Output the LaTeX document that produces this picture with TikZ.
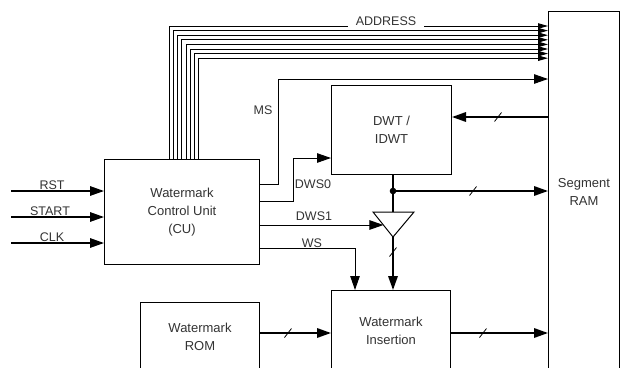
\documentclass[tikz,border=0pt]{standalone}
\usepackage{fontspec}
\setmainfont{Liberation Sans}
\usetikzlibrary{arrows.meta}
\begin{document}
\begin{tikzpicture}[x=1pt,y=-1pt,
  blk/.style={draw, line width=1pt, font=\fontsize{13}{18}\selectfont, text=black!80, align=center, inner sep=0pt, anchor=north west},
  lbl/.style={font=\fontsize{12.5}{15}\selectfont, text=black!80, inner sep=1pt},
  big/.style={-{Triangle[length=14pt,width=9.5pt]}},
  thinl/.style={line width=1pt},
  heavy/.style={line width=1.7pt},
  inl/.style={line width=1.4pt},
  addr/.style={line width=0.9pt, -{Triangle[length=10pt,width=5.4pt]}},
  slashmark/.pic={\draw[line width=0.8pt] (-3.5,4.5) -- (3.5,-4.5);}
]
\clip (0,0) rectangle (624,367);
\fill[white] (0,0) rectangle (624,367);

% blocks
\node[blk, minimum width=155pt, minimum height=105pt] (cu) at (104,159) {Watermark\\Control Unit\\(CU)};
\node[blk, minimum width=120pt, minimum height=89pt] (dwt) at (331,85) {DWT /\\IDWT};
\node[blk, minimum width=119pt, minimum height=68pt] (rom) at (140,302) {Watermark\\ROM};
\node[blk, minimum width=119pt, minimum height=80pt] (ins) at (331,290) {Watermark\\Insertion};
\node[blk, minimum width=71pt, minimum height=360pt] (ram) at (548,11) {Segment\\RAM};

% inputs
\coordinate (rst) at (11,191);
\coordinate (start) at (11,217);
\coordinate (clk) at (11,243);
\draw[inl, big] (rst) -- (rst -| cu.west);
\draw[inl, big] (start) -- (start -| cu.west);
\draw[inl, big] (clk) -- (clk -| cu.west);
\node[lbl, anchor=base] at (52,189.5) {RST};
\node[lbl, anchor=base] at (50,215.5) {START};
\node[lbl, anchor=base] at (52,241.5) {CLK};

% address bus
\foreach \i in {0,...,7} {
  \pgfmathsetmacro{\xs}{65+4.25*\i}
  \pgfmathsetmacro{\ys}{-15-4.6*\i}
  \draw[addr] ([xshift=\xs pt]cu.north west) |- ([yshift=\ys pt]ram.north west);
}
\node[lbl, fill=white, inner xsep=8pt, inner ysep=3pt, anchor=base] at (386,25) {ADDRESS};

% MS
\draw[thinl, big] (cu.east |- 0,184) -- (278,184) |- (ram.west |- 0,79);
\node[lbl] at (263,110) {MS};

% RAM -> DWT
\draw[heavy, big] (ram.west |- 0,117) -- (dwt.east |- 0,117);
\path (498,117) pic{slashmark};

% DWS0
\draw[thinl, big] (cu.east |- 0,201) -- (293,201) |- (dwt.west |- 0,158);
\node[lbl] at (313,184) {DWS0};

% junction and buffer
\coordinate (jn) at (393,191);
\coordinate (bt1) at (373,212);
\coordinate (bt2) at (414,212);
\coordinate (bapex) at (393,237);
\coordinate (bin) at (383.4,225);
\draw[thinl] (bt1) -- (bt2) -- (bapex) -- cycle;
\draw[heavy] (dwt.south -| jn) -- (jn) -- (jn |- bt1);
\fill (jn) circle (3.3pt);
\draw[heavy, big] (jn) -- (jn -| ram.west);
\path (473,191) pic{slashmark};
\draw[heavy, big] (bapex) -- (bapex |- ins.north);
\path (393,252) pic{slashmark};

% DWS1
\draw[thinl, big] (cu.east |- bin) -- (bin);
\node[lbl] at (314,216) {DWS1};

% WS
\draw[thinl, big] (cu.east |- 0,248) -- (355,248) -- (ins.north -| 355,0);
\node[lbl] at (312,243) {WS};

% ROM -> Insertion -> RAM
\draw[heavy, big] (rom.east |- 0,333) -- (ins.west |- 0,333);
\path (288,333) pic{slashmark};
\draw[heavy, big] (ins.east |- 0,333) -- (ram.west |- 0,333);
\path (483,333) pic{slashmark};
\end{tikzpicture}
\end{document}
